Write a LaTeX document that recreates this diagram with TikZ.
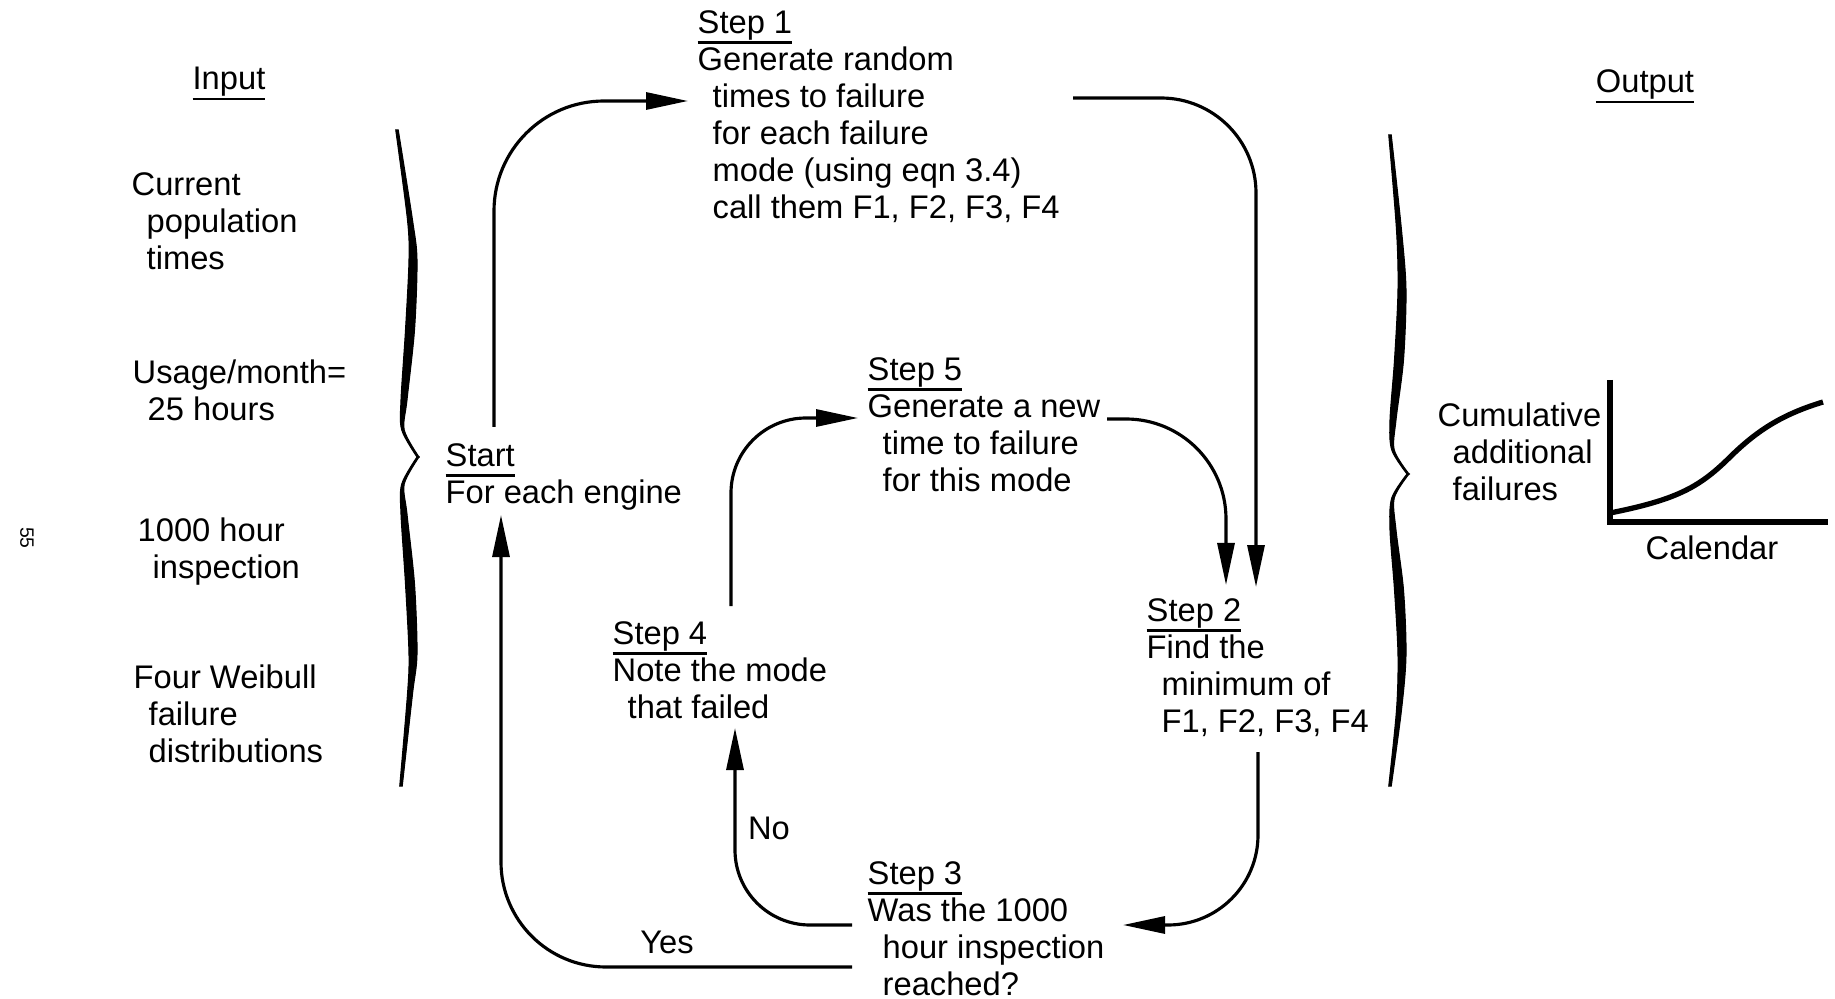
\documentclass[tikz,border=0pt]{standalone}
\usepackage{fontspec}
\setmainfont{Liberation Sans}
\usepackage{tikz}
\usetikzlibrary{arrows.meta,calc}

\newcommand{\uword}[1]{\setbox0=\hbox{#1}\rlap{\raisebox{-2.9pt}{\rule{\wd0}{0.75pt}}}\box0}
\newcommand{\ind}{\hspace*{0.15cm}}

\begin{document}
\begin{tikzpicture}[
font=\fontsize{9.3pt}{10.5pt}\selectfont,
textblock/.style={
align=left,
inner sep=0pt,
anchor=north west
},
label/.style={
inner sep=0pt,
anchor=base
},
arrow/.style={
-{Triangle[length=4.2mm,width=1.7mm]},
line width=0.9pt
},
brace/.style={
fill=black,
draw=black,
line width=0.3pt
},
axis/.style={
line width=1.5pt
}
]

\useasboundingbox (0,0) rectangle (18.35,-9.99);


% Input side

\node (input) [label] at (2.29,-0.90) {\uword{Input}};

\node (current) [textblock] at (1.31,-1.72)
{Current\\\ind population\\\ind times};

\node (usage) [textblock] at (1.32,-3.59)
{Usage/month=\\\ind 25 hours};

\node (inspect) [textblock] at (1.37,-5.17)
{1000 hour\\\ind inspection};

\node (weibull) [textblock] at (1.33,-6.64)
{Four Weibull\\\ind failure\\\ind distributions};

\node (pagenum) [rotate=-90, inner sep=0pt, font=\fontsize{5.5pt}{6pt}\selectfont] at (0.27,-5.38) {55};


% Left brace

\path[brace] plot[smooth] coordinates {(3.9825,-1.30) (4.125,-2.20) (4.17,-2.60) (4.145,-3.30) (4.07,-4.00) (4.0425,-4.30) (4.19,-4.57)}
-- plot[smooth] coordinates {(4.17,-4.57) (4.0175,-4.30) (4.01,-4.00) (4.055,-3.30) (4.09,-2.60) (4.075,-2.20) (3.9575,-1.30)} -- cycle;
\path[brace] plot[smooth] coordinates {(4.19,-4.57) (4.0425,-4.84) (4.07,-5.14) (4.145,-5.84) (4.17,-6.54) (4.125,-6.94) (4.0225,-7.86)}
-- plot[smooth] coordinates {(3.9975,-7.86) (4.075,-6.94) (4.09,-6.54) (4.055,-5.84) (4.01,-5.14) (4.0175,-4.84) (4.17,-4.57)} -- cycle;


% Simulation steps

\node (start) [textblock] at (4.45,-4.43)
{\uword{Start}\\For each engine};

\node (step1) [textblock] at (6.97,-0.10)
{\uword{Step 1}\\Generate random\\\ind times to failure\\\ind for each failure\\\ind mode (using eqn 3.4)\\\ind call them F1, F2, F3, F4};

\node (step5) [textblock] at (8.67,-3.57)
{\uword{Step 5}\\Generate a new\\\ind time to failure\\\ind for this mode};

\node (step4) [textblock] at (6.12,-6.21)
{\uword{Step 4}\\Note the mode\\\ind that failed};

\node (step2) [textblock] at (11.46,-5.98)
{\uword{Step 2}\\Find the\\\ind minimum of\\\ind F1, F2, F3, F4};

\node (step3) [textblock] at (8.67,-8.61)
{\uword{Step 3}\\Was the 1000\\\ind hour inspection\\\ind reached?};

\node (no) [label] at (7.69,-8.39) {No};
\node (yes) [label] at (6.67,-9.53) {Yes};


\draw[arrow, rounded corners=1.1cm] ([shift={(0.49,0.16)}]start.north west) |- ([shift={(-0.09,-0.91)}]step1.north west);
\draw[arrow, rounded corners=0.95cm] ([shift={(3.76,-0.88)}]step1.north west) -| ([shift={(1.10,0.11)}]step2.north west);
\draw[arrow, rounded corners=1.0cm] ([shift={(2.40,-0.62)}]step5.north west) -| ([shift={(0.80,0.13)}]step2.north west);
\draw[arrow, rounded corners=0.9cm] ([shift={(1.12,-1.54)}]step2.north west) |- ([shift={(2.56,-0.64)}]step3.north west);
\draw[arrow, rounded corners=0.75cm] ([shift={(-0.15,-0.64)}]step3.north west) -| ([shift={(1.23,-1.07)}]step4.north west);
\draw[arrow, rounded corners=0.75cm] ([shift={(1.19,0.15)}]step4.north west) |- ([shift={(-0.09,-0.61)}]step5.north west);
\draw[arrow, rounded corners=1.05cm] ([shift={(-0.15,-1.06)}]step3.north west) -| ([shift={(0.56,-0.72)}]start.north west);


% Right brace

\path[brace] plot[smooth] coordinates {(13.9125,-1.35) (14.015,-2.30) (14.06,-2.90) (14.035,-3.60) (13.96,-4.20) (13.9425,-4.50) (14.09,-4.74)}
-- plot[smooth] coordinates {(14.07,-4.74) (13.9175,-4.50) (13.90,-4.20) (13.945,-3.60) (13.98,-2.90) (13.965,-2.30) (13.8875,-1.35)} -- cycle;
\path[brace] plot[smooth] coordinates {(14.09,-4.74) (13.9425,-4.98) (13.96,-5.30) (14.035,-5.90) (14.06,-6.55) (14.015,-7.10) (13.9125,-7.86)}
-- plot[smooth] coordinates {(13.8875,-7.86) (13.965,-7.10) (13.98,-6.55) (13.945,-5.90) (13.90,-5.30) (13.9175,-4.98) (14.07,-4.74)} -- cycle;


% Output side

\node (output) [label] at (16.45,-0.93) {\uword{Output}};

\node (cumulative) [textblock] at (14.37,-4.02)
{Cumulative\\\ind additional\\\ind failures};

\draw[axis] (16.10,-3.80) |- (18.28,-5.22);
\draw[axis] (16.10,-5.13) .. controls (16.75,-5.00) and (16.98,-4.88) .. (17.27,-4.60)
.. controls (17.55,-4.32) and (17.80,-4.15) .. (18.23,-4.02);

\node (calendar) [label] at (17.12,-5.59) {Calendar};


\end{tikzpicture}
\end{document}
